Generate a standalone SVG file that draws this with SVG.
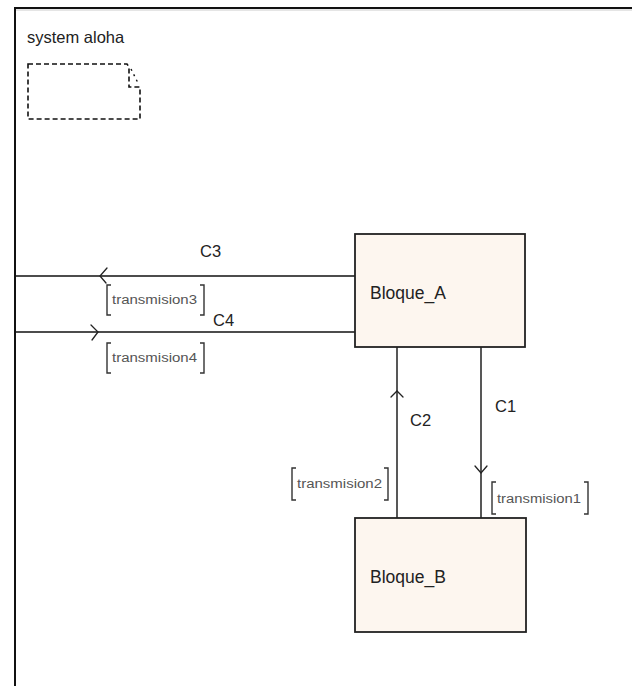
<svg xmlns="http://www.w3.org/2000/svg" width="632" height="686" viewBox="0 0 632 686">
  <defs>
    <style>
      .lbl { font-family: "Liberation Sans", Arial, sans-serif; fill: #222; }
      .big { font-size: 17.5px; }
      .mid { font-size: 16.5px; }
      .tag { font-family: "Liberation Sans", Arial, sans-serif; font-size: 12px; fill: #555; }
      .blk { fill: #fdf6ef; stroke: #222; stroke-width: 1.8; }
      .wire { stroke: #111; stroke-width: 1.4; fill: none; }
      .head { stroke: #222; stroke-width: 1.3; fill: none; stroke-linecap: round; }
      .brk { stroke: #333; stroke-width: 1.4; fill: none; }
      .note { stroke: #111; stroke-width: 1.6; fill: none; stroke-dasharray: 5 3; }
    </style>
  </defs>

  <rect x="0" y="0" width="632" height="686" fill="#ffffff"/>

  <!-- system frame -->
  <g id="frame">
    <path d="M15,686 V8 H632" fill="none" stroke="#111" stroke-width="2"/>
    <line x1="16" y1="10" x2="632" y2="10" stroke="#ccc" stroke-width="1"/>
    <text class="lbl mid" x="27" y="43">system aloha</text>
    <path class="note" d="M28,64 H127 L129,67 V87 H140 V119 H28 Z"/>
    <path d="M131,69 L139,85" stroke="#111" stroke-width="1.4" stroke-dasharray="2 4" fill="none"/>
  </g>

  <!-- connectors -->
  <g id="connectors">
    <!-- C3 -->
    <line class="wire" x1="15" y1="276" x2="355" y2="276"/>
    <path class="head" d="M107,268 L100,276 L106,283"/>
    <text class="lbl mid" x="200" y="257">C3</text>
    <path class="brk" d="M111,285 H107 V315 H111 M200,285 H204 V315 H200"/>
    <text class="tag" x="112" y="304" textLength="85" lengthAdjust="spacingAndGlyphs">transmision3</text>

    <!-- C4 -->
    <line class="wire" x1="15" y1="332" x2="355" y2="332"/>
    <path class="head" d="M91,325 L98,332 L92,340"/>
    <text class="lbl mid" x="213" y="326">C4</text>
    <path class="brk" d="M111,343 H107 V373 H111 M200,343 H204 V373 H200"/>
    <text class="tag" x="112" y="362" textLength="85" lengthAdjust="spacingAndGlyphs">transmision4</text>

    <!-- C2 -->
    <line class="wire" x1="397" y1="347" x2="397" y2="518"/>
    <path class="head" d="M391,397 L397,391 L403,397"/>
    <text class="lbl mid" x="410" y="426">C2</text>
    <path class="brk" d="M296,468 H292 V500 H296 M384,468 H388 V500 H384"/>
    <text class="tag" x="297" y="488" textLength="85" lengthAdjust="spacingAndGlyphs">transmision2</text>

    <!-- C1 -->
    <line class="wire" x1="481" y1="347" x2="481" y2="518"/>
    <path class="head" d="M475,466 L481,473 L487,466"/>
    <text class="lbl mid" x="495" y="412">C1</text>
    <path class="brk" d="M496,482 H492 V514 H496 M584,482 H588 V514 H584"/>
    <text class="tag" x="497" y="503" textLength="84" lengthAdjust="spacingAndGlyphs">transmision1</text>
  </g>

  <!-- blocks -->
  <g id="bloque_a">
    <rect class="blk" x="355" y="234" width="170" height="113"/>
    <text class="lbl big" x="370" y="299">Bloque_A</text>
  </g>
  <g id="bloque_b">
    <rect class="blk" x="355" y="518" width="171" height="114"/>
    <text class="lbl big" x="370" y="583">Bloque_B</text>
  </g>
</svg>
